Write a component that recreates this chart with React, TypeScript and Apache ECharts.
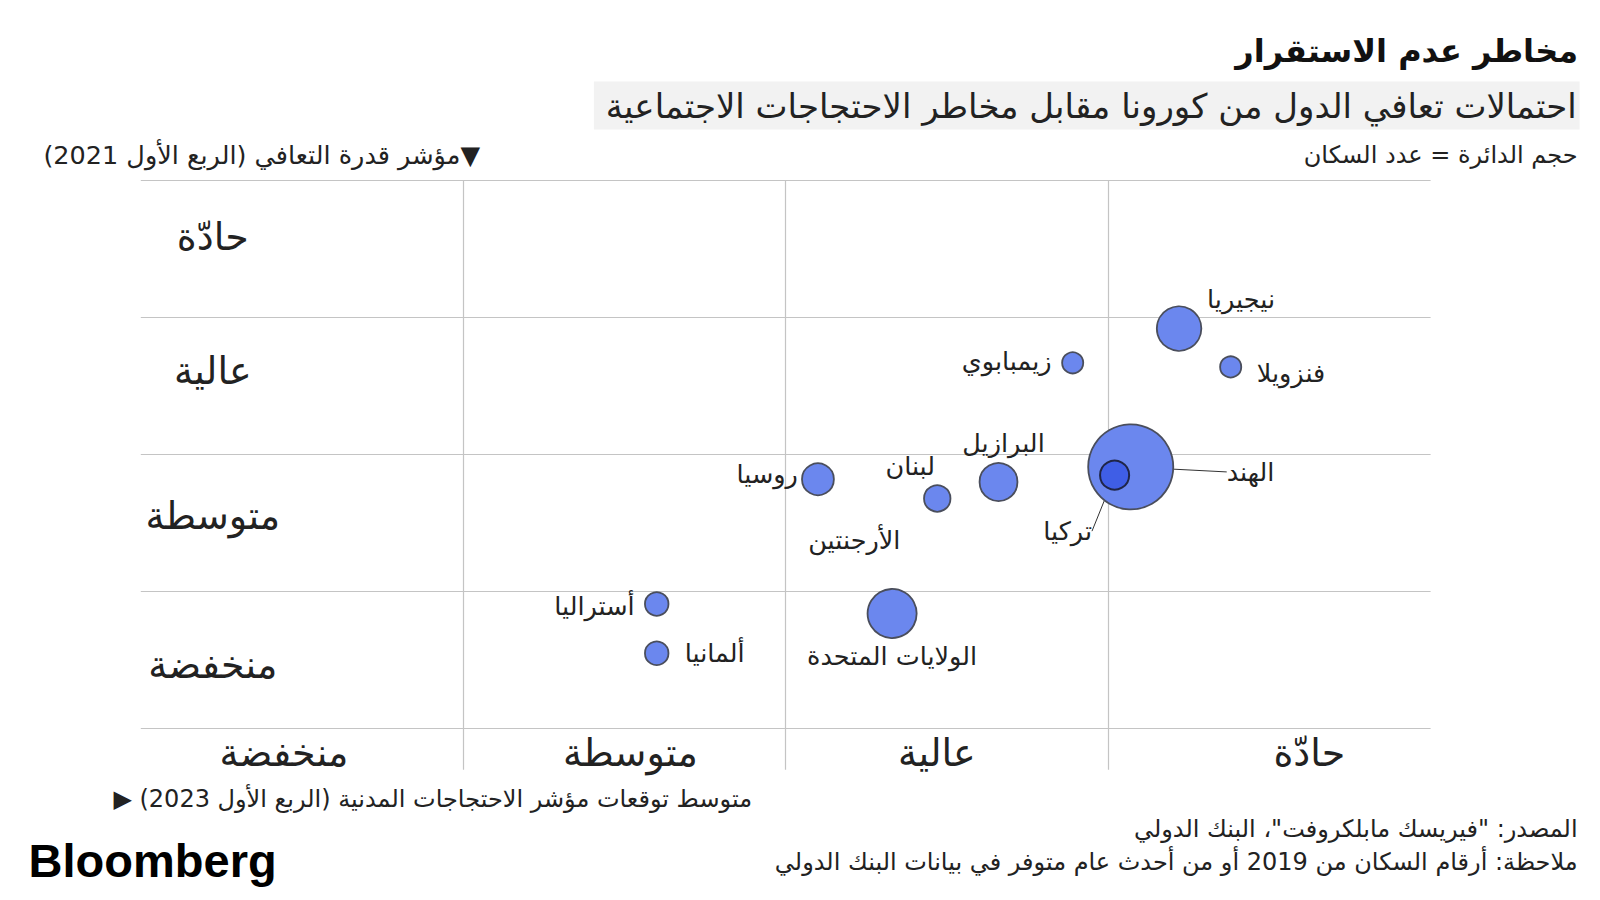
import React, { useEffect, useRef } from 'react';
import * as echarts from 'echarts';

// ---------- data ----------
const riskLevels = ['منخفضة', 'متوسطة', 'عالية', 'حادّة'];

const countries = [
  'نيجيريا',
  'فنزويلا',
  'زيمبابوي',
  'الهند',
  'تركيا',
  'البرازيل',
  'لبنان',
  'الأرجنتين',
  'روسيا',
  'أستراليا',
  'ألمانيا',
  'الولايات المتحدة',
];
// average civil unrest index outlook (Q1 2023), 0..4 scale (x)
const protestOutlook = [3.22, 3.38, 2.89, 3.07, 3.02, 2.66, 2.47, 2.47, 2.1, 1.6, 1.6, 2.33];
// recovery capacity index (Q1 2021), 0..4 scale (y)
const recoveryIndex = [2.92, 2.64, 2.67, 1.91, 1.85, 1.8, 1.68, 1.68, 1.82, 0.91, 0.55, 0.84];
// population (millions, relative)
const population = [368, 83, 83, 1345, 157, 267, 7, 130, 189, 103, 103, 448];

// ---------- texts ----------
const RLM = '\u200F';
const titleText = 'مخاطر عدم الاستقرار';
const subtitleText = 'احتمالات تعافي الدول من كورونا مقابل مخاطر الاحتجاجات الاجتماعية';
const sizeNote = 'حجم الدائرة = عدد السكان';
const yTitle = RLM + '▼مؤشر قدرة التعافي (الربع الأول 2021)' + RLM;
const xTitle = RLM + 'متوسط توقعات مؤشر الاحتجاجات المدنية (الربع الأول 2023) ▶' + RLM;
const sourceText = 'المصدر: "فيريسك مابلكروفت"، البنك الدولي';
const noteText = 'ملاحظة: أرقام السكان من 2019 أو من أحدث عام متوفر في بيانات البنك الدولي';

// ---------- layout / style (not data) ----------
const AR = '"DejaVu Sans", "Noto Sans", sans-serif';
const GRID = '#c4c4c4';
const SIZE_K = 1.16;
const labelPlacement: Record<string, [string, number, number]> = {
  'نيجيريا': ['left', 28, -30],
  'فنزويلا': ['left', 26, 6],
  'زيمبابوي': ['right', -21, -2],
  'الهند': ['left', 96, 5],
  'تركيا': ['center', -47, 56],
  'البرازيل': ['center', 5, -39],
  'لبنان': ['center', -27, -32],
  'الأرجنتين': ['center', -83, 42],
  'روسيا': ['right', -20, -5],
  'أستراليا': ['right', -22, 2],
  'ألمانيا': ['left', 28, 0],
  'الولايات المتحدة': ['center', 0, 42],
};
const leaderLines = ['الهند', 'تركيا'];

const near = (v: number, t: number) => Math.abs(v - t) < 1e-6;

export default function App() {
  const ref = useRef<HTMLDivElement>(null);

  useEffect(() => {
    if (!ref.current) return;
    const chart = echarts.init(ref.current, undefined, { renderer: 'svg' });

    const xLineColors = ['transparent', 'transparent', GRID, 'transparent', GRID, 'transparent', GRID, 'transparent'];
    const yLineColors = Array.from({ length: 10 }, (_, i) => (i === 3 ? GRID : 'transparent'));

    const data = countries.map((name, i) => {
      const [align, dx, dy] = labelPlacement[name];
      const isTurkey = name === 'تركيا';
      return {
        name,
        value: [protestOutlook[i], recoveryIndex[i], population[i]],
        itemStyle: isTurkey ? { color: '#3f5ee6', borderColor: '#1f2547', borderWidth: 2 } : undefined,
        label: { align, offset: [dx, dy] },
        labelLine: leaderLines.includes(name)
          ? { show: true, lineStyle: { color: '#333', width: 1 } }
          : { show: false },
      };
    });

    chart.setOption({
      animation: false,
      backgroundColor: '#ffffff',
      title: [
        {
          text: titleText,
          right: 22,
          top: 35,
          padding: 0,
          textStyle: { fontSize: 32, fontWeight: 'bold', fontFamily: AR, color: '#111' },
        },
        {
          text: subtitleText,
          right: 20.4,
          top: 81.6,
          padding: [7, 3, 7, 12],
          backgroundColor: '#f2f2f2',
          textStyle: { fontSize: 34, fontWeight: 'normal', fontFamily: AR, color: '#222' },
        },
      ],
      grid: { left: 140.8, right: 169.4, top: 180.6, bottom: 130.3 },
      xAxis: {
        type: 'value',
        min: 0,
        max: 4,
        interval: 0.5,
        axisLine: { show: false },
        axisTick: { show: false },
        splitLine: { show: true, lineStyle: { color: xLineColors, width: 1.2 } },
        axisLabel: {
          inside: true,
          margin: 17,
          verticalAlign: 'middle',
          fontSize: 38,
          fontFamily: AR,
          color: '#222',
          formatter: (v: number) => {
            for (let i = 0; i < riskLevels.length; i++) {
              if (near(v, i + 0.5)) return `{c${i}|${riskLevels[i]}}`;
            }
            return '';
          },
          rich: {
            c0: { padding: [0, 36, 0, 0] },
            c1: { padding: [0, 0, 0, 12] },
            c2: { padding: [0, 20, 0, 0] },
            c3: { padding: [0, 0, 0, 80] },
          },
        },
      },
      yAxis: {
        type: 'value',
        min: -0.3,
        max: 4,
        interval: 0.1,
        axisLine: { show: false },
        axisTick: { show: false },
        splitLine: { show: true, lineStyle: { color: yLineColors, width: 1.2 } },
        axisLabel: {
          inside: true,
          margin: 72,
          align: 'center',
          verticalAlign: 'middle',
          fontSize: 38,
          fontFamily: AR,
          color: '#222',
          formatter: (v: number) => {
            for (let i = 0; i < riskLevels.length; i++) {
              if (near(v, i + 0.5)) return `{r${i}|${riskLevels[i]}}`;
            }
            return '';
          },
          rich: {
            r0: { padding: [10, 0, 0, 0] },
            r1: { padding: [0, 0, 14, 0] },
            r2: { padding: [0, 0, 30, 0] },
            r3: { padding: [0, 0, 24, 0] },
          },
        },
      },
      series: [
        {
          type: 'scatter',
          data,
          symbol: 'circle',
          symbolSize: (v: number[]) => 2 * SIZE_K * Math.sqrt(v[2]),
          itemStyle: { color: '#6b87ee', borderColor: '#4a4e5c', borderWidth: 1.8, opacity: 1 },
          label: {
            show: true,
            position: 'inside',
            formatter: '{b}',
            color: '#222',
            fontSize: 25.5,
            fontFamily: AR,
            textBorderWidth: 0,
            verticalAlign: 'middle',
          },
          emphasis: { disabled: true },
          z: 3,
        },
      ],
      graphic: [
        {
          type: 'text',
          x: 1577.6,
          y: 155,
          style: { text: sizeNote, fontSize: 24, fontFamily: AR, fill: '#222', align: 'right', verticalAlign: 'middle' },
        },
        {
          type: 'text',
          x: 480,
          y: 155,
          style: { text: yTitle, fontSize: 25.5, fontFamily: AR, fill: '#222', align: 'right', verticalAlign: 'middle' },
        },
        {
          type: 'text',
          x: 752,
          y: 799,
          style: { text: xTitle, fontSize: 24, fontFamily: AR, fill: '#222', align: 'right', verticalAlign: 'middle' },
        },
        {
          type: 'text',
          x: 1577.6,
          y: 829,
          style: { text: sourceText, fontSize: 24, fontFamily: AR, fill: '#222', align: 'right', verticalAlign: 'middle' },
        },
        {
          type: 'text',
          x: 1577.6,
          y: 862,
          style: { text: noteText, fontSize: 24, fontFamily: AR, fill: '#222', align: 'right', verticalAlign: 'middle' },
        },
        {
          type: 'text',
          x: 28.6,
          y: 860,
          style: {
            text: 'Bloomberg',
            fontSize: 47,
            fontWeight: 'bold',
            fontFamily: '"Liberation Sans", Arial, sans-serif',
            fill: '#000',
            align: 'left',
            verticalAlign: 'middle',
          },
        },
      ],
    });

    return () => chart.dispose();
  }, []);

  return (
    <div
      ref={ref}
      style={{ position: 'absolute', left: 0, top: 0, width: 1600, height: 900, background: '#fff' }}
    />
  );
}
